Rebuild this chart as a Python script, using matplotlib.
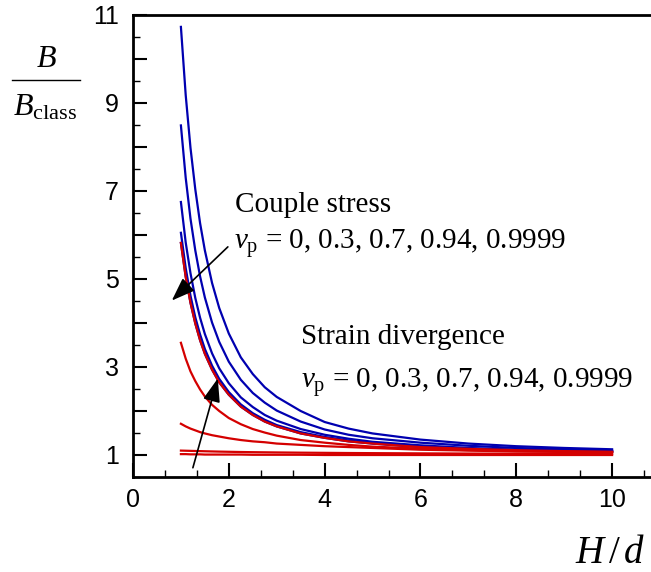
import matplotlib
matplotlib.use("Agg")
import matplotlib.pyplot as plt
from matplotlib.ticker import MultipleLocator, FuncFormatter

# H/d values where curves were read
hd = [1.0, 1.1, 1.2, 1.3, 1.4, 1.5, 1.65, 1.8, 2.0, 2.25, 2.5, 2.75,
      3.0, 3.5, 4.0, 4.5, 5.0, 6.0, 7.0, 8.0, 9.0, 10.0]

# Couple stress (blue), nu_p = 0, 0.3, 0.7, 0.94, 0.9999
cs_nu0 = [10.73, 9.18, 7.98, 7.04, 6.27, 5.65, 4.91, 4.34, 3.76, 3.22, 2.84, 2.54,
          2.32, 2.00, 1.75, 1.60, 1.49, 1.35, 1.26, 1.20, 1.16, 1.13]
cs_nu03 = [8.49, 7.30, 6.37, 5.65, 5.06, 4.58, 4.01, 3.57, 3.12, 2.71, 2.41, 2.19,
           2.01, 1.76, 1.58, 1.46, 1.38, 1.28, 1.21, 1.16, 1.13, 1.10]
cs_nu07 = [6.75, 5.83, 5.13, 4.57, 4.12, 3.75, 3.31, 2.97, 2.63, 2.31, 2.09, 1.91,
           1.78, 1.59, 1.46, 1.37, 1.30, 1.22, 1.16, 1.12, 1.10, 1.085]
cs_nu094 = [6.05, 5.25, 4.62, 4.13, 3.74, 3.41, 3.03, 2.73, 2.43, 2.15, 1.95, 1.80,
            1.68, 1.52, 1.41, 1.33, 1.27, 1.19, 1.14, 1.11, 1.09, 1.076]
cs_nu09999 = [5.82, 5.05, 4.46, 3.99, 3.61, 3.30, 2.94, 2.65, 2.37, 2.10, 1.91, 1.76,
              1.65, 1.49, 1.39, 1.31, 1.26, 1.18, 1.14, 1.11, 1.088, 1.073]

# Strain divergence (red), nu_p = 0, 0.3, 0.7, 0.94, 0.9999
sd_nu0 = [1.02, 1.02, 1.015, 1.015, 1.015, 1.01, 1.01, 1.01, 1.01, 1.01, 1.005, 1.005,
          1.005, 1.005, 1.0, 1.0, 1.0, 1.0, 1.0, 1.0, 1.0, 1.0]
sd_nu03 = [1.10, 1.097, 1.094, 1.091, 1.088, 1.085, 1.081, 1.077, 1.073, 1.068, 1.064, 1.061,
           1.058, 1.053, 1.049, 1.045, 1.042, 1.037, 1.033, 1.030, 1.028, 1.026]
sd_nu07 = [1.71, 1.65, 1.60, 1.56, 1.52, 1.49, 1.45, 1.42, 1.38, 1.34, 1.31, 1.29,
           1.26, 1.23, 1.20, 1.18, 1.16, 1.12, 1.10, 1.08, 1.07, 1.06]
sd_nu094 = [3.55, 3.19, 2.90, 2.68, 2.49, 2.33, 2.14, 2.00, 1.84, 1.70, 1.59, 1.51,
            1.44, 1.34, 1.28, 1.23, 1.19, 1.145, 1.11, 1.09, 1.076, 1.066]
sd_nu09999 = [5.82, 5.05, 4.46, 3.99, 3.61, 3.30, 2.94, 2.65, 2.37, 2.10, 1.91, 1.76,
              1.65, 1.49, 1.39, 1.31, 1.26, 1.18, 1.14, 1.11, 1.088, 1.073]

nu_text = r"$\nu_{\mathrm{p}}$ = 0, 0.3, 0.7, 0.94, 0.9999"

plt.rcParams['font.family'] = 'Liberation Sans'
plt.rcParams['xtick.labelsize'] = 18
plt.rcParams['ytick.labelsize'] = 18
plt.rcParams['mathtext.fontset'] = 'custom'
plt.rcParams['mathtext.rm'] = 'Liberation Serif'
plt.rcParams['mathtext.it'] = 'Liberation Serif:italic'
plt.rcParams['mathtext.bf'] = 'Liberation Serif:bold'

blue = '#0000b0'
red = '#d40000'

fig = plt.figure(figsize=(6.51, 5.72), dpi=100)
ax = fig.add_axes([133 / 651, 95 / 572, 527 / 651, 462 / 572])

for ys in [cs_nu0, cs_nu03, cs_nu07, cs_nu094, cs_nu09999]:
    ax.plot(hd, ys, color=blue, lw=1.6)
for ys in [sd_nu0, sd_nu03, sd_nu07, sd_nu094, sd_nu09999]:
    ax.plot(hd, ys, color=red, lw=1.6)

ax.set_xlim(0, 11)
ax.set_ylim(0.5, 11)
ax.xaxis.set_major_locator(MultipleLocator(2))
ax.xaxis.set_minor_locator(MultipleLocator(2 / 3))
ax.yaxis.set_major_locator(MultipleLocator(1))
ax.yaxis.set_minor_locator(MultipleLocator(0.5))
ax.yaxis.set_major_formatter(FuncFormatter(
    lambda v, p: str(int(round(v))) if int(round(v)) % 2 == 1 else ''))

ax.tick_params(which='major', direction='in', length=10, width=1.5,
               top=False, right=False)
ax.tick_params(which='minor', direction='in', length=5, width=1.0,
               top=False, right=False)
ax.tick_params(axis='x', which='major', pad=8)
ax.tick_params(axis='y', which='major', pad=10)
for s in ax.spines.values():
    s.set_linewidth(2)

serif = 'Liberation Serif'
ax.text(2.13, 6.52, 'Couple stress', family=serif, fontsize=21, va='baseline')
ax.text(2.10, 5.68, nu_text, family=serif, fontsize=21, va='baseline')
ax.text(3.51, 3.53, 'Strain divergence', family=serif, fontsize=21, va='baseline')
ax.text(3.51, 2.52, nu_text, family=serif, fontsize=21, va='baseline')

arrow = dict(arrowstyle='-|>,head_length=0.6,head_width=0.22', color='k',
             lw=1.2, mutation_scale=24, shrinkA=0, shrinkB=0)
ax.annotate('', xy=(0.81, 4.51), xytext=(1.98, 5.73), arrowprops=arrow)
ax.annotate('', xy=(1.77, 2.74), xytext=(1.25, 0.71), arrowprops=arrow)

# y label as a fraction B / B_class
fig.text(46 / 651, 1 - 67 / 572, r'$B$', fontsize=23, ha='center', va='baseline')
fig.add_artist(plt.Line2D([12 / 651, 80 / 651], [1 - 80 / 572, 1 - 80 / 572],
                          color='k', lw=1.0))
fig.text(13 / 651, 1 - 115 / 572, r'$B_{\mathrm{class}}$', fontsize=23,
         ha='left', va='baseline')

# x label
fig.text(645 / 651, 1 - 563 / 572, r'$H\,/\,d$', fontsize=28, ha='right',
         va='baseline')

fig.savefig('out.png', dpi=100)
